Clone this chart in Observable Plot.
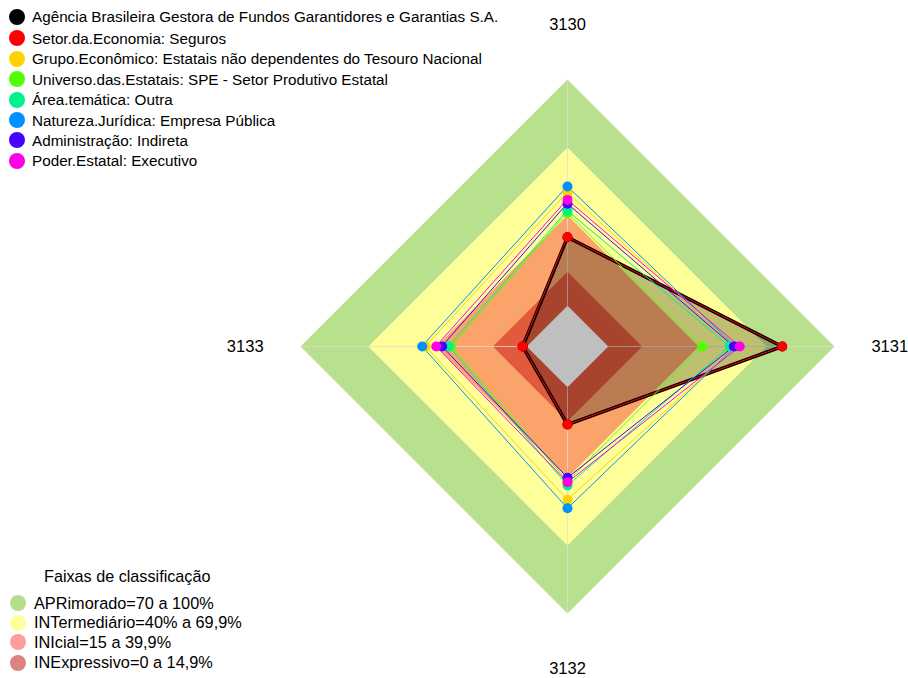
<!DOCTYPE html>
<html>
<head>
<meta charset="utf-8">
<script src="https://cdn.jsdelivr.net/npm/d3@7"></script>
<script src="https://cdn.jsdelivr.net/npm/@observablehq/plot@0.6"></script>
<style>
  html, body { margin: 0; padding: 0; background: #fff; }
  #wrap { position: relative; width: 908px; height: 678px; overflow: hidden; font-family: "Liberation Sans", Arial, sans-serif; }
  #wrap svg { position: absolute; left: 0; top: 0; }
  .row { position: absolute; height: 20px; display: flex; align-items: center; white-space: nowrap; font-size: 15.25px; color: #000; }
  .row.b { font-size: 16.3px; }
  .sw { position: absolute; border-radius: 50%; }
  .ttl { position: absolute; font-size: 16.2px; white-space: nowrap; height: 20px; display: flex; align-items: center; }
</style>
</head>
<body>
<div id="wrap"></div>
<script>
// ---- data ----
const axesLabels = ["3130", "3131", "3132", "3133"];

const seriesNames = [
  "Agência Brasileira Gestora de Fundos Garantidores e Garantias S.A.",
  "Setor.da.Economia: Seguros",
  "Grupo.Econômico: Estatais não dependentes do Tesouro Nacional",
  "Universo.das.Estatais: SPE - Setor Produtivo Estatal",
  "Área.temática: Outra",
  "Natureza.Jurídica: Empresa Pública",
  "Administração: Indireta",
  "Poder.Estatal: Executivo"
];
const seriesColors = ["#000000", "#ff0000", "#ffd200", "#50ff00", "#00f08c", "#0091ff", "#4600ff", "#ff00e6"];

// values per axis (3130, 3131, 3132, 3133), in %
const agencia       = [30.3, 76.9, 16.5, 1.8];
const setor         = [30.3, 76.9, 16.5, 1.8];
const grupo         = [50.0, 56.5, 49.7, 44.7];
const universo      = [41.0, 41.5, 41.5, 33.5];
const areaTematica  = [42.0, 53.6, 43.4, 34.5];
const natureza      = [52.7, 56.2, 53.5, 46.2];
const administracao = [45.1, 55.5, 40.0, 37.4];
const poder         = [46.8, 58.1, 42.0, 40.0];
const seriesValues = [agencia, setor, grupo, universo, areaTematica, natureza, administracao, poder];

// classification bands
const bandNames = ["APRimorado=70 a 100%", "INTermediário=40% a 69,9%", "INIcial=15 a 39,9%", "INExpressivo=0 a 14,9%"];
const bandUpper = [100, 70, 40, 15];
const bandFill = ["#b9e08d", "#ffff99", "#faa46c", "#e15a3c"];
const bandLegendColors = ["#b5dd8a", "#ffff9c", "#ff9c9c", "#dc8282"];
const legendTitle = "Faixas de classificação";

// ---- geometry helpers (radial scale: -18 .. 100 -> 0 .. 1) ----
const rMin = -18, rMax = 100;
const rn = v => (v - rMin) / (rMax - rMin);
const ang = i => i * Math.PI / 2;
const px = (v, i) => rn(v) * Math.sin(ang(i));
const py = (v, i) => rn(v) * Math.cos(ang(i));

const rows = [];
seriesValues.forEach((vals, s) => vals.forEach((v, i) => rows.push({series: seriesNames[s], axis: axesLabels[i], value: v, x: px(v, i), y: py(v, i)})));

const bandRows = [];
bandUpper.forEach((u, b) => axesLabels.forEach((a, i) => bandRows.push({band: b, x: px(u, i), y: py(u, i)})));
const centerRows = axesLabels.map((a, i) => ({x: px(0, i), y: py(0, i)}));

const axisRows = axesLabels.map((a, i) => ({x1: px(0, i), y1: py(0, i), x2: px(100, i), y2: py(100, i)}));
const labelRows = axesLabels.map((a, i) => ({label: a, x: 1.207 * Math.sin(ang(i)), y: 1.207 * Math.cos(ang(i))}));

const marks = [];
bandUpper.forEach((u, b) => {
  marks.push(Plot.line(bandRows.filter(d => d.band === b), {x: "x", y: "y", curve: "linear-closed", fill: bandFill[b], stroke: "none"}));
});
marks.push(Plot.line(centerRows, {x: "x", y: "y", curve: "linear-closed", fill: "#ffffff", stroke: "none"}));
marks.push(Plot.link(axisRows, {x1: "x1", y1: "y1", x2: "x2", y2: "y2", stroke: "#dcdcdc", strokeOpacity: 0.75, strokeWidth: 1}));
marks.push(Plot.line(rows.filter(d => d.series === seriesNames[0]), {x: "x", y: "y", curve: "linear-closed", fill: "#000", fillOpacity: 0.25, stroke: "#000", strokeWidth: 3.5}));
marks.push(Plot.line(rows.filter(d => d.series !== seriesNames[0]), {x: "x", y: "y", z: "series", stroke: "series", curve: "linear-closed", strokeWidth: 1}));
marks.push(Plot.dot(rows, {x: "x", y: "y", fill: "series", r: 5, stroke: "none"}));
marks.push(Plot.text(labelRows, {x: "x", y: "y", text: "label", fontSize: 16.5, fill: "#000", textAnchor: "middle", lineAnchor: "middle"}));

const chart = Plot.plot({
  width: 908,
  height: 678,
  margin: 0,
  style: {fontFamily: "Liberation Sans, Arial, sans-serif", background: "transparent"},
  x: {domain: [-1, 1], range: [300, 834], axis: null},
  y: {domain: [-1, 1], range: [613, 79], axis: null},
  color: {domain: seriesNames, range: seriesColors},
  marks
});

const wrap = document.getElementById("wrap");
wrap.appendChild(chart);

// top legend (series)
const topY = [16.7, 38.0, 58.8, 79.3, 99.6, 120.0, 140.3, 160.6];
seriesNames.forEach((name, i) => {
  const sw = document.createElement("div");
  sw.className = "sw";
  const r = 8;
  sw.style.left = (16.7 - r) + "px";
  sw.style.top = (topY[i] - r) + "px";
  sw.style.width = (2 * r) + "px";
  sw.style.height = (2 * r) + "px";
  sw.style.background = seriesColors[i];
  wrap.appendChild(sw);
  const row = document.createElement("div");
  row.className = "row";
  row.style.left = "32px";
  row.style.top = (topY[i] - 10) + "px";
  row.textContent = name;
  wrap.appendChild(row);
});

// bottom legend (bands)
const t = document.createElement("div");
t.className = "ttl";
t.style.left = "44px";
t.style.top = (576.7 - 10) + "px";
t.textContent = legendTitle;
wrap.appendChild(t);
const botY = [603.0, 622.6, 642.0, 662.8];
bandNames.forEach((name, i) => {
  const sw = document.createElement("div");
  sw.className = "sw";
  const r = 8;
  sw.style.left = (18 - r) + "px";
  sw.style.top = (botY[i] - r) + "px";
  sw.style.width = (2 * r) + "px";
  sw.style.height = (2 * r) + "px";
  sw.style.background = bandLegendColors[i];
  wrap.appendChild(sw);
  const row = document.createElement("div");
  row.className = "row b";
  row.style.left = "34px";
  row.style.top = (botY[i] - 10) + "px";
  row.textContent = name;
  wrap.appendChild(row);
});
</script>
</body>
</html>
